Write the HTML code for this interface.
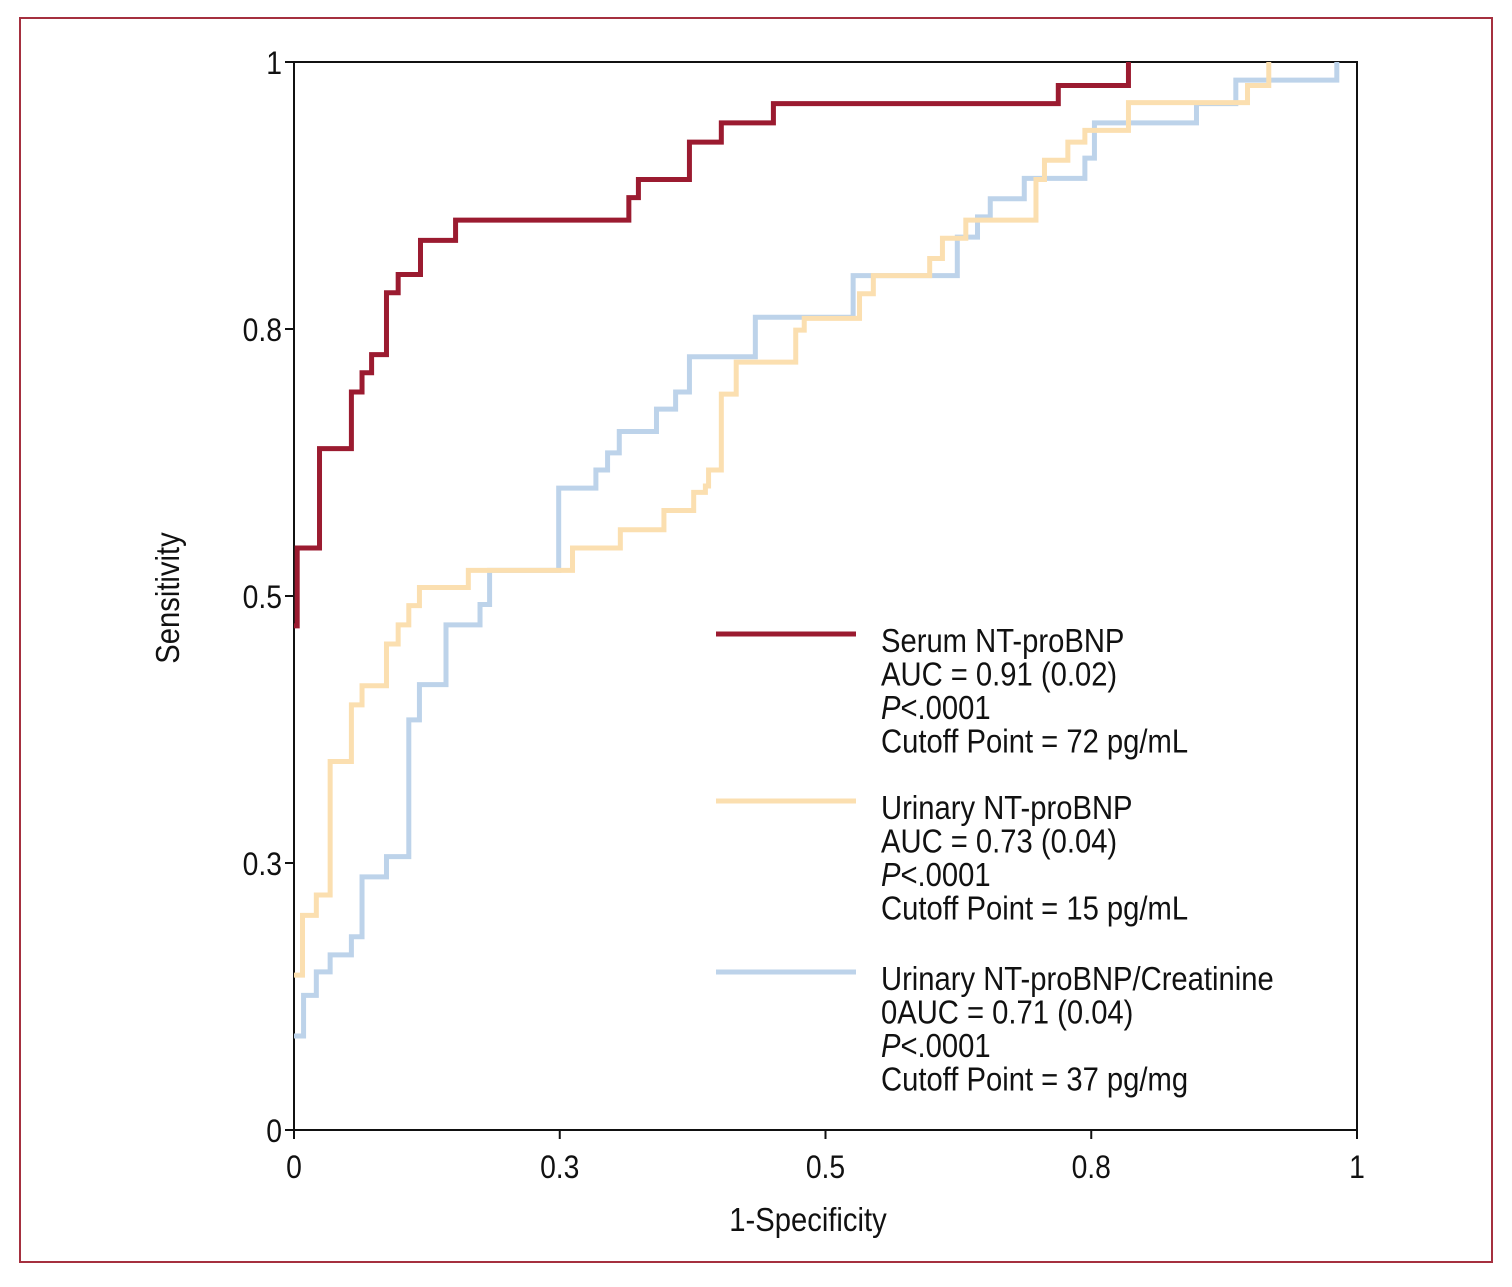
<!DOCTYPE html>
<html><head><meta charset="utf-8"><style>
html,body{margin:0;padding:0;background:#fff;}
svg{display:block;}
text{font-family:"Liberation Sans Narrow","Liberation Sans",sans-serif;fill:#111;}
</style></head><body>
<svg id="chart" width="1512" height="1287" viewBox="0 0 1512 1287" xmlns="http://www.w3.org/2000/svg">
<rect x="20" y="18" width="1472" height="1244" fill="none" stroke="#a5303f" stroke-width="2"/>
<g id="axes"></g>
<g id="series"></g>
<g id="legend"></g>
</svg>
<script>
const xTickVals=[0,0.25,0.5,0.75,1];
const xTickLabels=["0","0.3","0.5","0.8","1"];
const yTickVals=[0,0.25,0.5,0.75,1];
const yTickLabels=["0","0.3","0.5","0.8","1"];
const seriesNames=["Serum NT-proBNP","Urinary NT-proBNP","Urinary NT-proBNP/Creatinine"];
const seriesColors=["#9b1b30","#fbdfb0","#bdd3ea"];
const serumStart=0.472;
const serumFpr=[0.003,0.024,0.054,0.064,0.073,0.087,0.098,0.119,0.152,0.315,0.324,0.372,0.402,0.451,0.719,0.785];
const serumTpr=[0.545,0.638,0.691,0.709,0.726,0.784,0.801,0.833,0.852,0.873,0.890,0.925,0.943,0.961,0.978,1.0];
const urinaryStart=0.145;
const urinaryFpr=[0.008,0.021,0.034,0.054,0.064,0.087,0.098,0.108,0.118,0.164,0.262,0.307,0.348,0.376,0.387,0.390,0.402,0.416,0.472,0.480,0.532,0.545,0.598,0.610,0.632,0.698,0.706,0.728,0.744,0.785,0.897,0.917];
const urinaryTpr=[0.201,0.220,0.345,0.398,0.416,0.455,0.473,0.491,0.508,0.524,0.545,0.562,0.580,0.597,0.603,0.618,0.689,0.719,0.749,0.760,0.783,0.800,0.816,0.835,0.852,0.890,0.908,0.925,0.936,0.962,0.978,1.0];
const ratioStart=0.088;
const ratioFpr=[0.009,0.021,0.034,0.054,0.064,0.087,0.108,0.118,0.143,0.175,0.184,0.249,0.284,0.295,0.306,0.341,0.359,0.372,0.434,0.526,0.624,0.643,0.655,0.687,0.744,0.753,0.849,0.886,0.981];
const ratioTpr=[0.126,0.148,0.164,0.181,0.237,0.256,0.384,0.417,0.473,0.492,0.524,0.601,0.618,0.634,0.654,0.675,0.691,0.724,0.761,0.800,0.836,0.855,0.872,0.891,0.910,0.943,0.961,0.983,1.0];
const legendLines=[
 ["Serum NT-proBNP","AUC = 0.91 (0.02)","P|<.0001","Cutoff Point = 72 pg/mL"],
 ["Urinary NT-proBNP","AUC = 0.73 (0.04)","P|<.0001","Cutoff Point = 15 pg/mL"],
 ["Urinary NT-proBNP/Creatinine","0AUC = 0.71 (0.04)","P|<.0001","Cutoff Point = 37 pg/mg"]];

const NS="http://www.w3.org/2000/svg";
const X0=294,X1=1357,Y0=1130,Y1=62;
const SQ=0.885;
function sx(v){return X0+v*(X1-X0);}
function sy(v){return Y0-v*(Y0-Y1);}
function mk(tag,attrs,parent){const e=document.createElementNS(NS,tag);for(const k in attrs)e.setAttribute(k,attrs[k]);parent.appendChild(e);return e;}
function txt(x,y,size,anchor,parent,extra){return mk('text',{x:0,y:0,'text-anchor':anchor,'font-size':size,transform:'translate('+x+','+y+')'+(extra||'')+' scale('+SQ+',1)'},parent);}
const axes=document.getElementById('axes');
const box=mk('rect',{x:X0,y:Y1,width:X1-X0,height:Y0-Y1,fill:'none',stroke:'#111','stroke-width':2},axes);


xTickVals.forEach((v,i)=>{
 const t=mk('line',{x1:sx(v),x2:sx(v),y1:Y0,y2:Y0+9,stroke:'#111','stroke-width':2},axes);
 
 
 const l=txt(sx(v),Y0+48,32,'middle',axes);
 l.textContent=xTickLabels[i];
 
 
});
yTickVals.forEach((v,i)=>{
 const t=mk('line',{x1:X0-9,x2:X0,y1:sy(v),y2:sy(v),stroke:'#111','stroke-width':2},axes);
 
 
 const l=txt(X0-12,sy(v)+12,32,'end',axes);
 l.textContent=yTickLabels[i];
 
 
});
const xt=txt(808,1231,33,'middle',axes);
xt.textContent="1-Specificity";


const yt=txt(179,598,33,'middle',axes,' rotate(-90)');
yt.textContent="Sensitivity";



const ser=document.getElementById('series');
function stepPath(start,fpr,tpr){
 let d="M"+sx(0)+","+sy(start);
 for(let i=0;i<fpr.length;i++){d+=" H"+sx(fpr[i])+" V"+sy(tpr[i]);}
 return d;
}
const data=[[serumStart,serumFpr,serumTpr],[urinaryStart,urinaryFpr,urinaryTpr],[ratioStart,ratioFpr,ratioTpr]];
const names=['serum-ntprobnp-curve','urinary-ntprobnp-curve','urinary-ratio-curve'];
[2,1,0].forEach(i=>{
 const p=mk('path',{d:stepPath(...data[i]),fill:'none',stroke:seriesColors[i],'stroke-width':5,'stroke-linejoin':'miter'},ser);
 
 
});

const leg=document.getElementById('legend');
const legY=[634,801,972];
legendLines.forEach((lines,i)=>{
 const ln=mk('line',{x1:716,x2:856,y1:legY[i],y2:legY[i],stroke:seriesColors[i],'stroke-width':5},leg);
 
 
 lines.forEach((s,j)=>{
  const t=txt(881,legY[i]+18+j*33.5,33,'start',leg);
  if(s.indexOf('|')>=0){
   const parts=s.split('|');
   const a=mk('tspan',{'font-style':'italic'},t);a.textContent=parts[0];
   const b=mk('tspan',{},t);b.textContent=parts[1];
  } else t.textContent=s;
  
  
 });
});
</script>
</body></html>
